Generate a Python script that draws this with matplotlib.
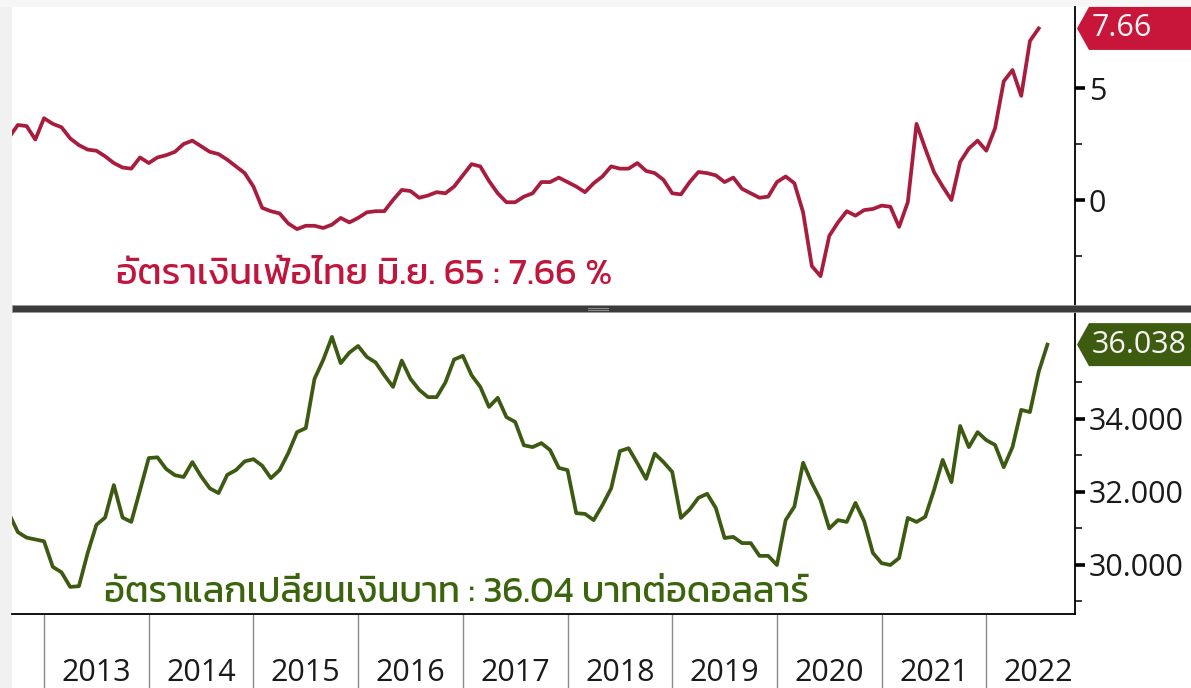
import matplotlib
matplotlib.use("Agg")
import matplotlib.pyplot as plt
import numpy as np
import pandas as pd
from matplotlib import font_manager
from matplotlib.patches import Polygon, Rectangle
from matplotlib.transforms import blended_transform_factory

# monthly values (month end), Aug 2012 - Jun 2022
inflation = [
    2.8, 3.35, 3.3, 2.7, 3.65, 3.4, 3.25, 2.75, 2.45, 2.25,
    2.2, 1.95, 1.65, 1.45, 1.4, 1.9, 1.65, 1.9, 2.0, 2.15,
    2.5, 2.65, 2.4, 2.15, 2.05, 1.8, 1.5, 1.2, 0.6, -0.35,
    -0.5, -0.6, -1.05, -1.3, -1.15, -1.15, -1.25, -1.1, -0.8, -1.0,
    -0.8, -0.55, -0.5, -0.5, 0.0, 0.45, 0.4, 0.1, 0.2, 0.35,
    0.3, 0.6, 1.1, 1.6, 1.5, 0.85, 0.3, -0.1, -0.1, 0.15,
    0.3, 0.8, 0.8, 1.0, 0.8, 0.6, 0.35, 0.75, 1.05, 1.5,
    1.4, 1.4, 1.65, 1.3, 1.2, 0.9, 0.3, 0.25, 0.8, 1.25,
    1.2, 1.1, 0.8, 1.0, 0.5, 0.3, 0.1, 0.15, 0.8, 1.05,
    0.75, -0.55, -2.95, -3.4, -1.6, -1.0, -0.5, -0.7, -0.45, -0.4,
    -0.25, -0.3, -1.2, -0.1, 3.4, 2.3, 1.25, 0.6, 0.0, 1.7,
    2.3, 2.65, 2.2, 3.2, 5.3, 5.8, 4.65, 7.1, 7.66,
]

# USD/THB, month end, Aug 2012 - Jul 2022
usdthb = [
    31.4, 30.9, 30.75, 30.7, 30.65, 29.95, 29.8, 29.4, 29.42, 30.33,
    31.1, 31.3, 32.19, 31.3, 31.18, 32.05, 32.93, 32.95, 32.63, 32.46,
    32.41, 32.82, 32.43, 32.1, 31.97, 32.47, 32.6, 32.84, 32.9, 32.72,
    32.38, 32.6, 33.07, 33.64, 33.75, 35.1, 35.62, 36.25, 35.53, 35.82,
    36.0, 35.7, 35.55, 35.2, 34.88, 35.6, 35.1, 34.8, 34.6, 34.6,
    35.0, 35.63, 35.73, 35.2, 34.88, 34.33, 34.58, 34.05, 33.92, 33.28,
    33.23, 33.34, 33.15, 32.66, 32.6, 31.42, 31.4, 31.23, 31.64, 32.1,
    33.12, 33.2, 32.79, 32.36, 33.05, 32.82, 32.55, 31.29, 31.52, 31.84,
    31.95, 31.56, 30.74, 30.77, 30.6, 30.6, 30.25, 30.25, 30.0, 31.23,
    31.6, 32.8, 32.25, 31.78, 31.0, 31.23, 31.18, 31.7, 31.2, 30.33,
    30.05, 30.0, 30.19, 31.29, 31.18, 31.32, 32.05, 32.88, 32.27, 33.81,
    33.23, 33.64, 33.42, 33.29, 32.68, 33.23, 34.25, 34.19, 35.29, 36.038,
]

years = list(range(2013, 2023))
infl_major = [0, 5]
infl_minor = [-2.5, 2.5]
fx_major = [30, 32, 34]
fx_minor = [29, 31, 33, 35]
infl_text = "อัตราเงินเฟ้อไทย มิ.ย. 65 : 7.66 %"
fx_text = "อัตราแลกเปลี่ยนเงินบาท : 36.04 บาทต่อดอลลาร์"

RED_LINE = "#a81d3e"
RED_TEXT = "#c0153c"
RED_TAG = "#c8163a"
GREEN_LINE = "#3d5a12"
GREEN_TEXT = "#3b650c"
GREEN_TAG = "#3e5c10"

W, H = 1191, 688
FS = 22


def pick_font(cands):
    names = {f.name for f in font_manager.fontManager.ttflist}
    for c in cands:
        if c in names:
            return c
    return "DejaVu Sans"


thai_font = pick_font(["Kanit", "Prompt", "Mitr", "Sarabun", "Anuphan"])
num_font = pick_font(["Open Sans", "Noto Sans", "DejaVu Sans"])


def to_year(dates):
    return np.array([d.year + d.month / 12.0 for d in dates])


t_infl = to_year(pd.date_range("2012-08-31", periods=len(inflation), freq="ME"))
t_fx = to_year(pd.date_range("2012-08-31", periods=len(usdthb), freq="ME"))

fig = plt.figure(figsize=(W / 100, H / 100), dpi=100)
fig.patch.set_facecolor("white")

# light grey strips at the left and top edge
fig.add_artist(Rectangle((0, 0), 12 / W, 1, transform=fig.transFigure,
                         facecolor="#f1f1f1", edgecolor="none", zorder=0))
fig.add_artist(Rectangle((0, 1 - 7 / H), 1, 7 / H, transform=fig.transFigure,
                         facecolor="#f6f6f6", edgecolor="none", zorder=0))

ax1 = fig.add_axes([12 / W, 1 - 305 / H, (1075 - 12) / W, (305 - 7) / H])
ax2 = fig.add_axes([12 / W, 1 - 614 / H, (1075 - 12) / W, (614 - 312) / H])

xlim = (2012.694, 2022.847)

# top panel: inflation
ax1.plot(t_infl, inflation, color=RED_LINE, lw=2.7, solid_joinstyle="round")
ax1.set_xlim(xlim)
ax1.set_ylim(-105 / 22.4, 193 / 22.4)

# bottom panel: exchange rate
ax2.plot(t_fx, usdthb, color=GREEN_LINE, lw=2.7, solid_joinstyle="round")
ax2.set_xlim(xlim)
ax2.set_ylim(30 - 49 / 36.5, 30 + 253 / 36.5)

for ax in (ax1, ax2):
    ax.set_facecolor("white")
    for s in ("left", "top", "bottom"):
        ax.spines[s].set_visible(False)
    ax.spines["right"].set_linewidth(1.3)
    ax.yaxis.tick_right()
    ax.tick_params(axis="y", which="major", length=7, width=2.6, pad=3,
                   colors="black", labelcolor="#1a1a1a")
    ax.tick_params(axis="y", which="minor", length=5, width=1.1)

ax2.spines["bottom"].set_visible(True)
ax2.spines["bottom"].set_linewidth(1.3)

ax1.set_yticks(infl_major)
ax1.set_yticks(infl_minor, minor=True)
ax1.set_yticklabels([str(v) for v in infl_major], fontfamily=num_font, fontsize=FS)
ax1.set_xticks([])

ax2.set_yticks(fx_major)
ax2.set_yticks(fx_minor, minor=True)
ax2.set_yticklabels(["%.3f" % v for v in fx_major], fontfamily=num_font, fontsize=FS)

# year separators below the axis
ax2.set_xticks(years)
ax2.set_xticklabels([""] * len(years))
ax2.tick_params(axis="x", which="major", length=74 * 0.72, width=1.0,
                color="#8a8a8a", direction="out")

# year labels centred in each year, kept inside the picture
yr_trans = blended_transform_factory(ax2.transData, fig.transFigure)
for y in years:
    ax2.text(y + 0.5, 1 - 681 / H, str(y), transform=yr_trans,
             ha="center", va="baseline", fontfamily=num_font, fontsize=FS,
             color="#1a1a1a", clip_on=False)

# dark separator between the panels
fig.add_artist(Rectangle((12 / W, 1 - 312 / H), 1 - 12 / W, 7 / H,
                         transform=fig.transFigure, facecolor="#3b3b3b",
                         edgecolor="#9a9a9a", lw=0.6, zorder=5))
for dy in (307.5, 309.5):
    fig.add_artist(plt.Line2D([588 / W, 608 / W], [1 - dy / H, 1 - dy / H],
                              transform=fig.transFigure, color="#8c8c8c",
                              lw=0.8, zorder=6))


def value_tag(ax, value, label, color):
    fig.canvas.draw()
    yc = ax.transData.transform((xlim[1], value))[1]
    hh = 21.5
    pts = [(1077, yc), (1089, yc + hh), (W, yc + hh), (W, yc - hh), (1089, yc - hh)]
    pts = [(x / W, y / H) for x, y in pts]
    fig.add_artist(Polygon(pts, closed=True, transform=fig.transFigure,
                           facecolor=color, edgecolor="none", zorder=7))
    fig.text(1092 / W, yc / H, label, color="#f4f4f4", fontsize=FS,
             fontfamily=num_font, va="center", ha="left", zorder=8)


value_tag(ax1, inflation[-1], "%.2f" % inflation[-1], RED_TAG)
value_tag(ax2, usdthb[-1], "%.3f" % usdthb[-1], GREEN_TAG)


def fit_text(x_px, base_px, s, width_px, color):
    t = fig.text(x_px / W, 1 - base_px / H, s, fontsize=20, color=color,
                 fontfamily=[thai_font, "DejaVu Sans"], va="baseline",
                 ha="left", zorder=9)
    r = fig.canvas.get_renderer()
    w = t.get_window_extent(r).width
    t.set_fontsize(20 * width_px / w)
    return t


fit_text(116, 284, infl_text, 496, RED_TEXT)
fit_text(104, 602, fx_text, 702, GREEN_TEXT)

fig.savefig("out.png", dpi=100, facecolor=fig.get_facecolor())
